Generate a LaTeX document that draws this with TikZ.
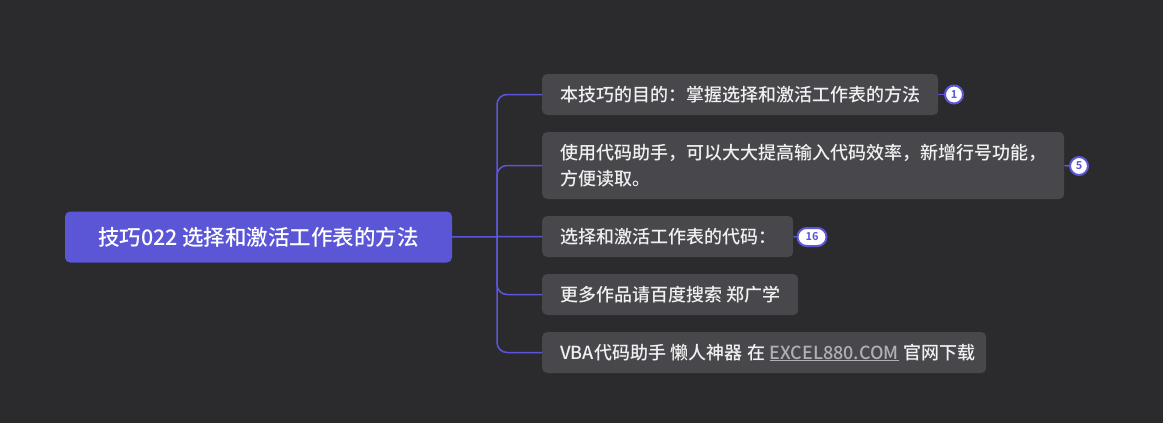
\documentclass[tikz,border=0pt]{standalone}
\usepackage{fontspec}
\setmainfont{Noto Sans CJK SC}[UprightFont=* Medium, BoldFont=* Bold]
\definecolor{bg}{HTML}{2B2A2D}
\definecolor{boxc}{HTML}{48474C}
\definecolor{rootc}{HTML}{5A56D6}
\definecolor{linec}{HTML}{5B57D8}
\definecolor{txt}{HTML}{F0F0F0}
\definecolor{urlc}{HTML}{B0B0B4}
\newcommand{\gp}{\hspace{4.5pt}}
\tikzset{
  child/.style={anchor=west, fill=boxc, rounded corners=5pt, text=txt, align=left,
    inner xsep=18pt, inner ysep=0pt, minimum height=41pt,
    font=\fontsize{18pt}{26pt}\selectfont},
  rootbox/.style={fill=rootc, rounded corners=5pt, text=white, minimum width=387pt,
    minimum height=51pt, font=\fontsize{21.5pt}{24pt}\selectfont},
  conn/.style={draw=linec, line width=1.5pt},
  badge/.style={draw=linec, line width=2pt, fill=white, text=linec, inner sep=0pt,
    font=\fontsize{11pt}{11pt}\selectfont\bfseries},
}
\begin{document}
\begin{tikzpicture}[x=1pt,y=-1pt]
\fill[bg] (0,0) rectangle (1163,423);
\useasboundingbox (0,0) rectangle (1163,423);

\node[rootbox] (root) at (258.5,237) {技巧022\gp 选择和激活工作表的方法};

\node[child, text width=360pt] (c1) at (542,94.5) {\mbox{本技巧的目的：掌握选择和激活工作表的方法}};
\node[child, text width=486pt, minimum height=67pt] (c2) at (542,165.5) {\mbox{使用代码助手，可以大大提高输入代码效率，新增行号功能，}\\方便读取。};
\node[child, text width=215pt] (c3) at (542,236.5) {\mbox{选择和激活工作表的代码：}};
\node[child, text width=220pt] (c4) at (542,294.5) {\mbox{更多作品请百度搜索\gp 郑广学}};
\node[child, text width=408pt] (c5) at (542,352.5) {\mbox{VBA代码助手\gp 懒人神器\gp 在\gp{\color{urlc}\underline{EXCEL880.COM}}\gp 官网下载}};

\coordinate (j) at (497,237);
\draw[conn] (root.east) -- (c3.west);
\draw[conn, rounded corners=10pt] (c1.west) -- (c1.west -| j) -- (j);
\draw[conn, rounded corners=10pt] (c2.west) -- (c2.west -| j) -- (j);
\draw[conn, rounded corners=10pt] (c4.west) -- (c4.west -| j) -- (j);
\draw[conn, rounded corners=10pt] (c5.west) -- (c5.west -| j) -- (j);

\node[badge, circle, minimum size=18pt] (b1) at (954,94.5) {1};
\node[badge, circle, minimum size=18pt] (b2) at (1079,166) {5};
\node[badge, rounded corners=9pt, minimum width=29pt, minimum height=18pt] (b3) at (812,237) {16};
\draw[conn] (c1.east) -- (b1.west);
\draw[conn] (c2.east) -- (b2.west);
\draw[conn] (c3.east) -- (b3.west);
\end{tikzpicture}
\end{document}
